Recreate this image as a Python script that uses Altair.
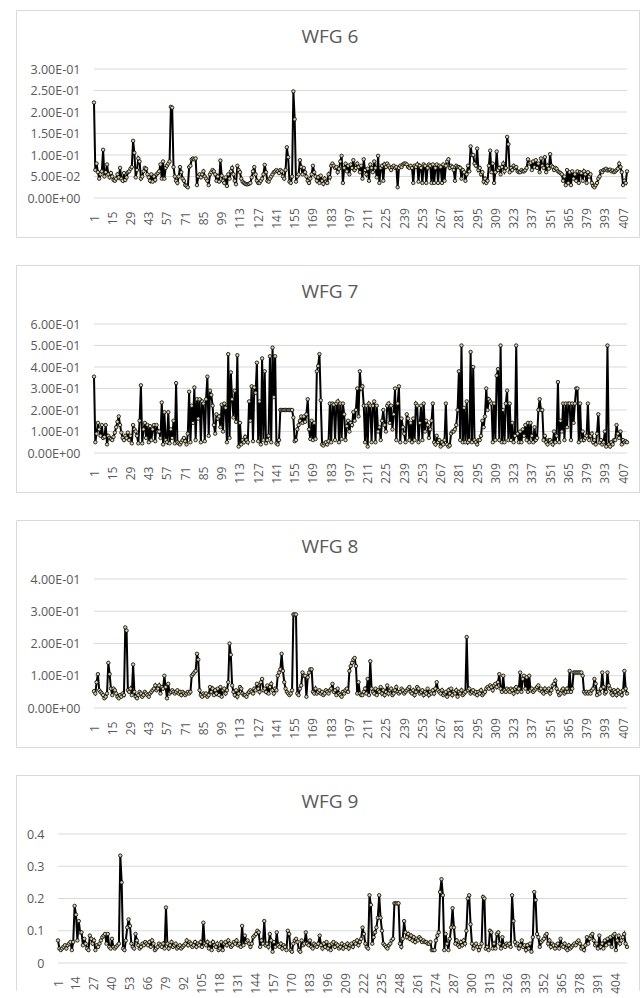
import altair as alt
import pandas as pd

# Per-run values of each WFG problem, in units of 1e-3
WFG6 = [
    222, 65, 80, 60, 45, 55, 62, 112, 50, 60,
    78, 55, 48, 58, 50, 42, 40, 45, 55, 48,
    70, 45, 40, 58, 42, 48, 60, 62, 68, 72,
    133, 105, 48, 65, 92, 85, 45, 50, 62, 70,
    68, 55, 48, 40, 55, 38, 50, 42, 55, 58,
    62, 78, 45, 85, 45, 70, 75, 80, 85, 212,
    210, 72, 50, 40, 35, 50, 72, 60, 45, 40,
    30, 28, 25, 72, 75, 90, 92, 90, 92, 30,
    50, 55, 48, 55, 62, 50, 45, 40, 30, 55,
    60, 65, 62, 55, 40, 50, 38, 87, 52, 40,
    35, 48, 28, 55, 45, 62, 70, 55, 40, 32,
    75, 65, 60, 45, 38, 35, 33, 32, 32, 33,
    35, 48, 62, 72, 55, 40, 35, 35, 40, 45,
    55, 77, 60, 40, 38, 45, 50, 55, 60, 62,
    65, 62, 58, 65, 62, 50, 45, 65, 118, 95,
    38, 35, 50, 248, 183, 38, 50, 55, 88, 72,
    55, 70, 60, 50, 40, 35, 45, 55, 75, 60,
    50, 40, 48, 35, 52, 40, 33, 45, 38, 35,
    55, 48, 75, 80, 75, 70, 72, 60, 68, 85,
    98, 35, 70, 80, 62, 75, 55, 78, 70, 88,
    65, 70, 80, 72, 60, 75, 45, 90, 65, 55,
    68, 40, 78, 70, 60, 85, 70, 48, 98, 35,
    70, 75, 40, 78, 72, 80, 75, 70, 65, 72,
    75, 70, 72, 25, 70, 75, 72, 78, 80, 80,
    78, 72, 70, 75, 70, 35, 75, 72, 78, 38,
    75, 70, 35, 78, 75, 35, 70, 78, 75, 35,
    78, 35, 70, 78, 35, 75, 72, 35, 78, 40,
    75, 85, 90, 70, 75, 72, 65, 40, 75, 72,
    72, 70, 45, 65, 60, 40, 55, 75, 62, 120,
    100, 100, 80, 75, 115, 65, 70, 55, 60, 38,
    45, 35, 40, 75, 110, 60, 80, 35, 60, 108,
    65, 70, 55, 72, 80, 62, 70, 142, 125, 60,
    70, 65, 75, 70, 72, 62, 60, 60, 65, 62,
    62, 65, 70, 90, 80, 82, 65, 85, 72, 88,
    70, 80, 60, 92, 75, 70, 95, 60, 75, 68,
    102, 75, 72, 65, 70, 68, 62, 60, 58, 55,
    40, 50, 30, 65, 35, 60, 30, 62, 45, 55,
    40, 62, 35, 60, 58, 40, 62, 55, 35, 60,
    50, 55, 35, 28, 25, 30, 35, 45, 50, 62,
    60, 65, 66, 68, 64, 65, 66, 62, 64, 60,
    62, 65, 68, 80, 72, 60, 30, 40, 35, 62,
]

WFG7 = [
    355, 50, 90, 140, 110, 80, 130, 70, 75, 130,
    40, 80, 70, 65, 60, 75, 95, 120, 145, 170,
    130, 95, 70, 60, 80, 70, 95, 60, 80, 45,
    130, 110, 100, 80, 45, 150, 315, 45, 110, 140,
    70, 130, 50, 125, 60, 110, 130, 55, 130, 100,
    100, 70, 235, 40, 190, 60, 50, 190, 45, 110,
    70, 150, 45, 325, 50, 45, 40, 50, 60, 70,
    55, 40, 90, 285, 50, 220, 140, 305, 60, 250,
    160, 250, 50, 240, 230, 55, 250, 355, 80, 290,
    270, 220, 130, 90, 180, 160, 170, 120, 225, 100,
    230, 210, 50, 460, 70, 375, 250, 165, 290, 145,
    455, 30, 140, 40, 60, 50, 75, 60, 50, 240,
    150, 310, 55, 305, 280, 420, 55, 240, 40, 440,
    60, 380, 45, 60, 80, 450, 50, 490, 260, 450,
    45, 40, 60, 200, 200, 200, 200, 200, 200, 200,
    200, 200, 200, 165, 55, 60, 110, 130, 150, 170,
    140, 170, 145, 180, 250, 110, 65, 150, 60, 140,
    65, 380, 405, 460, 245, 40, 35, 45, 50, 40,
    55, 230, 50, 230, 225, 60, 230, 240, 50, 230,
    65, 230, 180, 60, 125, 150, 100, 140, 130, 190,
    150, 200, 300, 170, 380, 300, 310, 220, 50, 220,
    30, 230, 220, 50, 220, 240, 50, 220, 100, 120,
    60, 150, 200, 130, 100, 220, 230, 140, 220, 110,
    180, 300, 60, 230, 310, 50, 160, 120, 90, 50,
    180, 160, 60, 140, 50, 160, 60, 230, 220, 50,
    140, 220, 60, 230, 100, 150, 130, 70, 110, 150,
    230, 50, 40, 80, 50, 60, 30, 50, 40, 60,
    230, 40, 30, 35, 90, 100, 100, 110, 130, 200,
    380, 60, 500, 50, 210, 50, 240, 50, 60, 470,
    50, 400, 60, 50, 40, 60, 60, 80, 150, 120,
    170, 300, 200, 250, 240, 230, 50, 230, 60, 360,
    390, 60, 500, 50, 200, 50, 230, 290, 60, 230,
    60, 140, 50, 80, 500, 90, 50, 100, 50, 110,
    80, 130, 60, 140, 50, 140, 80, 50, 120, 60,
    70, 200, 250, 200, 200, 60, 80, 50, 40, 60,
    60, 50, 40, 100, 50, 80, 330, 50, 150, 100,
    230, 60, 230, 120, 230, 230, 60, 230, 140, 230,
    300, 300, 50, 230, 60, 100, 60, 70, 80, 230,
    60, 80, 90, 50, 60, 40, 90, 180, 50, 60,
    40, 50, 100, 30, 500, 40, 30, 50, 40, 60,
    60, 130, 90, 70, 100, 40, 60, 50, 55, 50,
]

WFG8 = [
    52, 45, 80, 105, 55, 50, 45, 40, 30, 35,
    45, 140, 105, 60, 40, 60, 55, 45, 35, 30,
    40, 35, 45, 40, 250, 240, 55, 50, 60, 40,
    135, 50, 35, 30, 40, 50, 45, 35, 40, 50,
    45, 40, 35, 45, 50, 55, 60, 70, 55, 60,
    70, 45, 65, 60, 100, 65, 30, 75, 45, 50,
    55, 50, 45, 50, 55, 45, 50, 40, 50, 45,
    40, 45, 50, 45, 50, 100, 105, 110, 115, 168,
    150, 55, 40, 35, 45, 40, 45, 35, 40, 65,
    50, 60, 40, 55, 45, 60, 40, 65, 35, 55,
    60, 45, 55, 80, 200, 165, 70, 50, 40, 55,
    35, 45, 65, 60, 45, 40, 40, 35, 45, 50,
    55, 50, 45, 60, 55, 75, 60, 50, 80, 90,
    55, 60, 50, 70, 45, 65, 75, 55, 45, 60,
    55, 100, 110, 120, 168, 115, 80, 60, 50, 45,
    40, 45, 55, 290, 290, 290, 45, 40, 60, 70,
    110, 100, 100, 35, 95, 110, 120, 120, 50, 45,
    60, 45, 50, 55, 45, 50, 40, 45, 55, 50,
    45, 55, 60, 75, 50, 55, 40, 60, 45, 40,
    35, 50, 45, 55, 60, 50, 115, 130, 140, 150,
    155, 130, 45, 80, 45, 40, 40, 50, 60, 45,
    90, 40, 145, 60, 50, 45, 60, 40, 55, 50,
    65, 45, 55, 40, 50, 70, 45, 55, 60, 40,
    45, 55, 65, 50, 45, 50, 60, 55, 45, 50,
    55, 60, 65, 50, 45, 55, 40, 50, 65, 60,
    45, 50, 55, 40, 50, 45, 60, 40, 50, 45,
    55, 45, 60, 80, 55, 50, 45, 55, 40, 45,
    50, 35, 55, 45, 60, 40, 50, 45, 55, 35,
    50, 45, 55, 40, 45, 50, 220, 55, 60, 45,
    50, 55, 45, 50, 40, 50, 45, 55, 40, 45,
    50, 60, 65, 60, 70, 65, 55, 70, 75, 65,
    80, 105, 60, 50, 100, 55, 50, 60, 55, 50,
    60, 55, 45, 60, 65, 50, 60, 110, 50, 90,
    100, 60, 95, 50, 100, 55, 60, 50, 55, 60,
    65, 70, 55, 60, 50, 45, 60, 50, 55, 60,
    45, 55, 70, 75, 85, 60, 50, 40, 45, 55,
    60, 45, 50, 60, 50, 115, 50, 60, 110, 110,
    110, 110, 110, 110, 110, 100, 50, 45, 50, 45,
    50, 45, 55, 60, 90, 75, 40, 50, 45, 60,
    110, 65, 45, 50, 110, 70, 60, 45, 40, 55,
    50, 40, 55, 45, 50, 40, 55, 115, 60, 45,
]

WFG9 = [
    70, 45, 40, 45, 50, 55, 45, 55, 60, 65,
    40, 65, 177, 150, 70, 130, 95, 95, 55, 75,
    60, 45, 40, 85, 75, 60, 70, 40, 55, 50,
    60, 70, 80, 85, 90, 60, 90, 50, 45, 75,
    50, 45, 50, 55, 60, 333, 250, 45, 40, 70,
    110, 135, 115, 60, 50, 45, 90, 70, 55, 45,
    50, 60, 55, 65, 60, 55, 65, 50, 70, 60,
    40, 45, 50, 60, 55, 50, 60, 45, 172, 60,
    45, 55, 65, 50, 55, 60, 45, 50, 55, 45,
    50, 55, 60, 70, 55, 65, 60, 50, 55, 65,
    50, 60, 55, 65, 50, 125, 60, 55, 65, 45,
    60, 40, 65, 55, 50, 60, 40, 45, 65, 40,
    60, 65, 55, 70, 60, 50, 55, 65, 60, 70,
    55, 60, 50, 115, 55, 85, 65, 70, 60, 50,
    60, 80, 85, 90, 100, 95, 50, 70, 60, 130,
    55, 60, 50, 90, 70, 35, 65, 50, 95, 55,
    50, 60, 45, 55, 50, 40, 100, 90, 40, 35,
    60, 70, 75, 65, 40, 35, 70, 55, 60, 95,
    60, 55, 70, 50, 45, 60, 55, 50, 60, 85,
    55, 45, 60, 50, 65, 45, 55, 40, 60, 65,
    50, 60, 55, 45, 50, 60, 45, 55, 50, 60,
    45, 55, 60, 50, 65, 60, 70, 55, 65, 75,
    110, 90, 60, 50, 45, 210, 180, 60, 80, 95,
    110, 140, 210, 140, 100, 60, 55, 50, 45, 55,
    60, 70, 75, 185, 185, 185, 185, 60, 50, 75,
    130, 95, 80, 90, 75, 85, 70, 80, 65, 75,
    70, 80, 75, 65, 70, 65, 65, 60, 60, 65,
    40, 40, 40, 70, 85, 95, 220, 260, 210, 40,
    90, 60, 40, 75, 110, 170, 110, 60, 70, 55,
    50, 65, 55, 70, 60, 100, 200, 210, 120, 60,
    45, 55, 60, 50, 40, 50, 60, 205, 200, 45,
    50, 40, 100, 95, 45, 60, 45, 90, 95, 60,
    45, 80, 55, 50, 60, 55, 60, 50, 210, 130,
    65, 55, 60, 45, 55, 70, 50, 55, 40, 55,
    45, 60, 35, 80, 220, 195, 90, 80, 50, 65,
    70, 75, 85, 90, 60, 70, 50, 60, 55, 45,
    55, 60, 45, 75, 55, 50, 60, 45, 40, 55,
    45, 50, 55, 60, 55, 65, 70, 60, 45, 50,
    40, 55, 80, 60, 75, 85, 90, 70, 55, 60,
    45, 85, 50, 60, 45, 70, 55, 75, 60, 80,
    50, 85, 90, 40, 70, 85, 60, 70, 80, 90, 60, 50,
]

# Category-axis labels
X_TICKS_14 = [1, 15, 29, 43, 57, 71, 85, 99, 113, 127, 141, 155, 169, 183, 197,
              211, 225, 239, 253, 267, 281, 295, 309, 323, 337, 351, 365, 379, 393, 407]
X_TICKS_13 = [1, 14, 27, 40, 53, 66, 79, 92, 105, 118, 131, 144, 157, 170, 183, 196,
              209, 222, 235, 248, 261, 274, 287, 300, 313, 326, 339, 352, 365, 378, 391, 404]

# Value-axis ticks and their labels
Y_TICKS_6 = [0, 0.05, 0.1, 0.15, 0.2, 0.25, 0.3]
Y_LABELS_6 = ["0.00E+00", "5.00E-02", "1.00E-01", "1.50E-01", "2.00E-01", "2.50E-01", "3.00E-01"]
Y_TICKS_7 = [0, 0.1, 0.2, 0.3, 0.4, 0.5, 0.6]
Y_LABELS_7 = ["0.00E+00", "1.00E-01", "2.00E-01", "3.00E-01", "4.00E-01", "5.00E-01", "6.00E-01"]
Y_TICKS_8 = [0, 0.1, 0.2, 0.3, 0.4]
Y_LABELS_8 = ["0.00E+00", "1.00E-01", "2.00E-01", "3.00E-01", "4.00E-01"]
Y_TICKS_9 = [0, 0.1, 0.2, 0.3, 0.4]
Y_LABELS_9 = ["0", "0.1", "0.2", "0.3", "0.4"]

FONT = "Open Sans"
TEXT = "#595959"
GRID = "#d9d9d9"
MARKER = "#d8cfa5"

BOX_W = 624
LEFT = 78             # frame edge to plot origin (shared by every panel)
PLOT_W, PLOT_H = 533, 129
TOP, BOTTOM = 59, 40


def label_expr(ticks, labels):
    expr = "''"
    for t, lab in zip(reversed(ticks), reversed(labels)):
        expr = f"abs(datum.value - {t}) < 1e-9 ? '{lab}' : ({expr})"
    return expr


def frame_edges(source, bottom, closed):
    """Light border around a panel, drawn edge by edge."""
    x0, x1, y0 = -LEFT + 0.5, BOX_W - LEFT - 0.5, -TOP + 0.5
    y1 = PLOT_H + bottom - 0.5
    base = alt.Chart(source).mark_rule(color=GRID, strokeWidth=1)
    edges = [
        base.encode(x=alt.value(x0), x2=alt.value(x1), y=alt.value(y0)),
        base.encode(x=alt.value(x0), y=alt.value(y0), y2=alt.value(y1)),
        base.encode(x=alt.value(x1), y=alt.value(y0), y2=alt.value(y1)),
    ]
    if closed:
        edges.append(base.encode(x=alt.value(x0), x2=alt.value(x1), y=alt.value(y1)))
    return edges


def panel(title, values, y_ticks, y_labels, x_ticks, shift=0,
          bottom=BOTTOM, closed=True):
    """One framed line chart; `shift` widens the plot to the left by that many px."""
    n = len(values)
    runs = pd.DataFrame({"run": list(range(1, n + 1)),
                         "value": [v / 1000 for v in values]})
    grid_df = pd.DataFrame({"value": y_ticks})

    y_enc = alt.Y(
        "value:Q",
        scale=alt.Scale(domain=[0, y_ticks[-1]], nice=False, zero=True),
        axis=alt.Axis(values=y_ticks, labelExpr=label_expr(y_ticks, y_labels),
                      ticks=False, domain=False, grid=False, labelPadding=14,
                      offset=shift, labelColor=TEXT, labelFont=FONT,
                      labelFontSize=12.5, title=None),
    )
    x_enc = alt.X(
        "run:Q",
        scale=alt.Scale(domain=[1, n], nice=False, zero=False,
                        range=[-shift, PLOT_W]),
        axis=alt.Axis(values=x_ticks, labelAngle=-90, labelAlign="center",
                      labelBaseline="middle", labelPadding=20, ticks=False,
                      domain=False, grid=False, labelFlush=False,
                      labelOverlap=False, labelColor=TEXT, labelFont=FONT,
                      labelFontSize=12, title=None),
    )

    name_df = pd.DataFrame({"name": [title]})
    heading = alt.Chart(name_df).mark_text(
        font=FONT, fontSize=19, color=TEXT, baseline="middle", align="center"
    ).encode(
        text="name:N", x=alt.value(BOX_W / 2 - LEFT + 2), y=alt.value(-32),
    )
    grid = alt.Chart(grid_df).mark_rule(color=GRID, strokeWidth=1).encode(
        y=y_enc, x=alt.value(-shift), x2=alt.value(PLOT_W)
    )
    line = alt.Chart(runs).mark_line(color="black", strokeWidth=2).encode(
        x=x_enc, y=y_enc
    )
    dots = alt.Chart(runs).mark_circle(
        size=12, color=MARKER, opacity=1, stroke="black", strokeWidth=0.8
    ).encode(x=x_enc, y=y_enc)

    layers = frame_edges(name_df, bottom, closed) + [heading, grid, line, dots]
    return alt.layer(*layers).properties(width=PLOT_W, height=PLOT_H)


# The last frame runs past the bottom of the page, so it is left open there;
# the canvas is trimmed on the right to the width of the page column.
chart = alt.vconcat(
    panel("WFG 6", WFG6, Y_TICKS_6, Y_LABELS_6, X_TICKS_14),
    panel("WFG 7", WFG7, Y_TICKS_7, Y_LABELS_7, X_TICKS_14),
    panel("WFG 8", WFG8, Y_TICKS_8, Y_LABELS_8, X_TICKS_14),
    panel("WFG 9", WFG9, Y_TICKS_9, Y_LABELS_9, X_TICKS_13, shift=36,
          bottom=28, closed=False),
    spacing=27,
).properties(
    padding={"left": 16, "top": 10, "right": -20, "bottom": 0},
    background="white",
).configure_view(stroke=None)

chart.save("out.html", embed_options={"renderer": "svg", "actions": False})
